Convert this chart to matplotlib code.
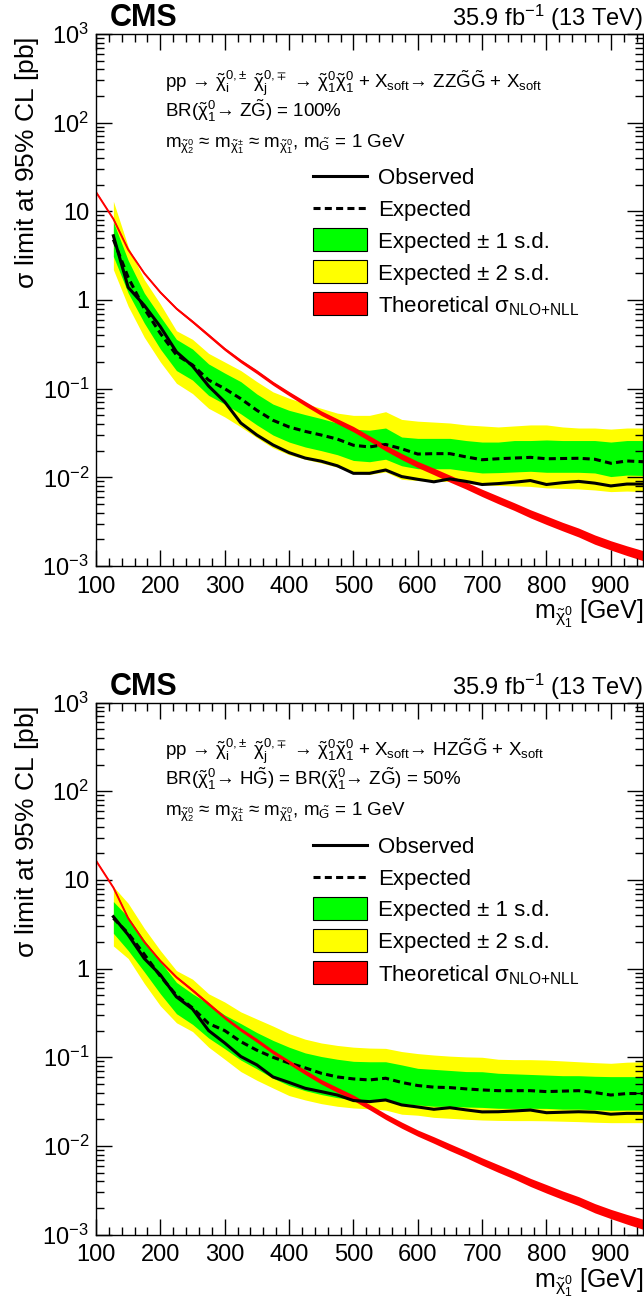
import numpy as np
import matplotlib
matplotlib.use('Agg')
import matplotlib.pyplot as plt
from matplotlib.patches import Rectangle
from matplotlib.lines import Line2D
from matplotlib.ticker import FixedLocator, FixedFormatter, LogLocator, NullFormatter, MultipleLocator

plt.rcParams['font.family'] = ['Liberation Sans', 'DejaVu Sans']
plt.rcParams['mathtext.fontset'] = 'custom'
plt.rcParams['mathtext.rm'] = 'Liberation Sans'
plt.rcParams['mathtext.it'] = 'Liberation Sans:italic'
plt.rcParams['mathtext.bf'] = 'Liberation Sans:bold'
plt.rcParams['mathtext.sf'] = 'Liberation Sans'
plt.rcParams['mathtext.default'] = 'regular'

# neutralino mass points [GeV]
mass = [127, 150, 175, 200, 225, 250, 275, 300, 325, 350, 375, 400, 425, 450, 475, 500, 525,
        550, 575, 600, 625, 650, 675, 700, 725, 750, 775, 800, 825, 850, 875, 900, 925, 950]

# theory cross section (same in both panels) [pb] and relative uncertainty
theory_mass = [100] + mass
theory_xsec = [16.5, 8.2, 3.7, 2.0, 1.22, 0.80, 0.57, 0.40, 0.28, 0.205, 0.155, 0.115, 0.088,
               0.068, 0.053, 0.043, 0.035, 0.0275, 0.0215, 0.0172, 0.0140, 0.0117, 0.0097,
               0.0081, 0.0067, 0.0056, 0.0047, 0.0039, 0.0033, 0.0028, 0.0024, 0.0020,
               0.00172, 0.00150, 0.00132]
theory_unc = [0.02, 0.02, 0.02, 0.025, 0.03, 0.03, 0.035, 0.04, 0.04, 0.045, 0.05, 0.05, 0.055,
              0.06, 0.06, 0.065, 0.07, 0.07, 0.075, 0.08, 0.08, 0.085, 0.09, 0.09, 0.095, 0.10,
              0.10, 0.105, 0.11, 0.11, 0.115, 0.12, 0.12, 0.125, 0.13]

# ZZ panel (BR = 100%)
zz_obs = [5.3, 1.39, 0.87, 0.50, 0.26, 0.18, 0.107, 0.071, 0.041, 0.030, 0.0232, 0.019, 0.0165,
          0.0152, 0.0135, 0.0111, 0.0111, 0.0121, 0.0102, 0.0095, 0.0089, 0.0096, 0.0090,
          0.0083, 0.0085, 0.0088, 0.0092, 0.0083, 0.0087, 0.0090, 0.0086, 0.0080, 0.0084, 0.0084]
zz_exp = [4.8, 1.8, 0.80, 0.42, 0.24, 0.185, 0.125, 0.10, 0.077, 0.057, 0.044, 0.037, 0.033,
          0.030, 0.027, 0.023, 0.022, 0.0235, 0.021, 0.0183, 0.0185, 0.0185, 0.017, 0.0158,
          0.0162, 0.0165, 0.0168, 0.0162, 0.0163, 0.0164, 0.016, 0.0144, 0.0153, 0.015]
zz_up1 = [7.6, 2.8, 1.2, 0.65, 0.36, 0.28, 0.19, 0.15, 0.12, 0.087, 0.067, 0.057, 0.051, 0.046,
          0.041, 0.035, 0.034, 0.036, 0.0285, 0.0275, 0.0275, 0.0275, 0.026, 0.025, 0.025,
          0.026, 0.026, 0.0264, 0.026, 0.026, 0.026, 0.025, 0.026, 0.026]
zz_dn1 = [3.1, 1.2, 0.55, 0.28, 0.16, 0.125, 0.084, 0.067, 0.052, 0.039, 0.030, 0.025, 0.022,
          0.020, 0.018, 0.0155, 0.015, 0.016, 0.0135, 0.0125, 0.0125, 0.0125, 0.0118, 0.0112,
          0.0113, 0.0115, 0.0117, 0.0114, 0.0114, 0.0114, 0.0112, 0.0102, 0.0106, 0.0105]
zz_up2 = [13.0, 4.0, 1.7, 0.9, 0.45, 0.36, 0.25, 0.20, 0.16, 0.12, 0.092, 0.078, 0.068, 0.060,
          0.053, 0.050, 0.050, 0.055, 0.045, 0.043, 0.042, 0.041, 0.039, 0.038, 0.037, 0.038,
          0.039, 0.039, 0.037, 0.036, 0.036, 0.035, 0.036, 0.036]
zz_dn2 = [2.2, 0.85, 0.38, 0.20, 0.115, 0.088, 0.060, 0.048, 0.037, 0.028, 0.0215, 0.018, 0.016,
          0.0145, 0.013, 0.0112, 0.0108, 0.0115, 0.0095, 0.0092, 0.0090, 0.0090, 0.0086,
          0.0082, 0.0081, 0.0080, 0.0079, 0.0076, 0.0075, 0.0074, 0.0072, 0.0069, 0.0070, 0.0069]

# HZ panel (BR = 50%)
hz_obs = [3.85, 2.4, 1.3, 0.85, 0.48, 0.35, 0.20, 0.145, 0.102, 0.082, 0.060, 0.052, 0.0447,
          0.041, 0.0375, 0.0325, 0.0316, 0.033, 0.029, 0.0275, 0.0259, 0.027, 0.0255, 0.0242,
          0.0243, 0.0248, 0.0254, 0.0237, 0.024, 0.0243, 0.024, 0.0228, 0.0233, 0.0233]
hz_exp = [3.7, 2.5, 1.45, 0.82, 0.50, 0.36, 0.24, 0.20, 0.15, 0.12, 0.10, 0.086, 0.076, 0.066,
          0.060, 0.057, 0.0555, 0.058, 0.052, 0.048, 0.046, 0.0455, 0.044, 0.0428, 0.042, 0.042,
          0.042, 0.041, 0.0415, 0.042, 0.040, 0.0375, 0.039, 0.039]
hz_up1 = [5.7, 3.8, 2.1, 1.2, 0.70, 0.52, 0.40, 0.30, 0.24, 0.19, 0.155, 0.13, 0.112, 0.102,
          0.095, 0.090, 0.089, 0.089, 0.082, 0.075, 0.073, 0.071, 0.069, 0.0687, 0.066, 0.065,
          0.064, 0.063, 0.062, 0.062, 0.061, 0.0605, 0.0605, 0.0605]
hz_dn1 = [2.5, 1.6, 0.92, 0.52, 0.31, 0.235, 0.165, 0.125, 0.093, 0.074, 0.058, 0.048, 0.042,
          0.038, 0.035, 0.0335, 0.033, 0.034, 0.030, 0.029, 0.028, 0.028, 0.0275, 0.0272,
          0.0266, 0.0265, 0.0266, 0.0265, 0.026, 0.026, 0.0256, 0.0252, 0.0254, 0.0254]
hz_up2 = [8.4, 5.45, 2.85, 1.6, 0.95, 0.76, 0.52, 0.42, 0.325, 0.27, 0.225, 0.185, 0.16, 0.145,
          0.136, 0.13, 0.127, 0.126, 0.116, 0.11, 0.106, 0.103, 0.101, 0.10, 0.095, 0.094,
          0.094, 0.093, 0.091, 0.089, 0.087, 0.0855, 0.088, 0.089]
hz_dn2 = [1.8, 1.3, 0.68, 0.38, 0.245, 0.195, 0.13, 0.095, 0.069, 0.055, 0.045, 0.037, 0.033,
          0.030, 0.028, 0.0268, 0.0262, 0.0254, 0.0228, 0.0222, 0.021, 0.0205, 0.020, 0.0196,
          0.0194, 0.0193, 0.0193, 0.0192, 0.019, 0.0188, 0.0185, 0.0183, 0.0183, 0.0183]

ytick_vals = [1e-3, 1e-2, 1e-1, 1, 10, 1e2, 1e3]
ytick_labels = ['$10^{-3}$', '$10^{-2}$', '$10^{-1}$', '1', '10', '$10^{2}$', '$10^{3}$']

zz_text = [r'pp → $\tilde{\chi}^{0{,}\pm}_{i}$ $\tilde{\chi}^{0{,}\mp}_{j}$ → '
           r'$\tilde{\chi}^{0}_{1}\tilde{\chi}^{0}_{1}$ + X$_{\text{soft}}$→ '
           r'ZZ$\tilde{G}\tilde{G}$ + X$_{\text{soft}}$',
           r'BR($\tilde{\chi}^{0}_{1}$→ Z$\tilde{G}$) = 100%',
           r'm$_{\tilde{\chi}^{0}_{2}}$ ≈ m$_{\tilde{\chi}^{\pm}_{1}}$ ≈ '
           r'm$_{\tilde{\chi}^{0}_{1}}$, m$_{\tilde{G}}$ = 1 GeV']
hz_text = [r'pp → $\tilde{\chi}^{0{,}\pm}_{i}$ $\tilde{\chi}^{0{,}\mp}_{j}$ → '
           r'$\tilde{\chi}^{0}_{1}\tilde{\chi}^{0}_{1}$ + X$_{\text{soft}}$→ '
           r'HZ$\tilde{G}\tilde{G}$ + X$_{\text{soft}}$',
           r'BR($\tilde{\chi}^{0}_{1}$→ H$\tilde{G}$) = '
           r'BR($\tilde{\chi}^{0}_{1}$→ Z$\tilde{G}$) = 50%',
           zz_text[2]]

legend_labels = ['Observed', 'Expected', 'Expected ± 1 s.d.', 'Expected ± 2 s.d.',
                 r'Theoretical $\sigma_{\text{NLO+NLL}}$']

fig = plt.figure(figsize=(6.44, 13.02), dpi=100)
W, H = 644., 1302.
ax1 = fig.add_axes([96 / W, 1 - 566 / H, 547 / W, 532 / H])
ax2 = fig.add_axes([96 / W, 1 - 1234.6 / H, 547 / W, 532 / H])


def draw_panel(ax, obs, exp, up1, dn1, up2, dn2, text):
    ax.fill_between(mass, dn2, up2, color='#ffff00', lw=0)
    ax.fill_between(mass, dn1, up1, color='#00ff00', lw=0)
    ax.plot(mass, exp, color='black', lw=2.2, ls=(0, (2.3, 1.4)))
    th = np.array(theory_xsec)
    unc = np.array(theory_unc)
    ax.fill_between(theory_mass, th * (1 - unc), th * (1 + unc), color='red', lw=0)
    ax.plot(theory_mass, th, color='red', lw=1.4)
    ax.plot(mass, obs, color='black', lw=2.2)

    ax.set_yscale('log')
    ax.set_xlim(100, 950)
    ax.set_ylim(1e-3, 1e3)
    ax.xaxis.set_major_locator(MultipleLocator(100))
    ax.xaxis.set_minor_locator(MultipleLocator(20))
    ax.yaxis.set_major_locator(FixedLocator(ytick_vals))
    ax.yaxis.set_major_formatter(FixedFormatter(ytick_labels))
    ax.yaxis.set_minor_locator(LogLocator(base=10, subs=np.arange(2, 10), numticks=20))
    ax.yaxis.set_minor_formatter(NullFormatter())
    ax.tick_params(which='both', direction='in', top=True, right=True, width=1.0)
    ax.tick_params(which='major', length=11.5, labelsize=17)
    ax.tick_params(which='minor', length=5.8)
    ax.tick_params(axis='x', pad=7)
    ax.tick_params(axis='y', pad=5)
    for s in ax.spines.values():
        s.set_linewidth(1.0)

    ax.set_xlabel(r'm$_{\tilde{\chi}^{0}_{1}}$ [GeV]', fontsize=18, loc='right')
    ax.xaxis.set_label_coords(1.0, -0.06)
    ax.set_ylabel(r'$\sigma$ limit at 95% CL [pb]', fontsize=19, loc='top')
    ax.yaxis.set_label_coords(-0.101, 0.995)

    ax.text(0.0255, 1.015, 'CMS', transform=ax.transAxes, fontsize=22, fontweight='bold',
            va='baseline', ha='left')
    ax.text(1.0, 1.015, r'35.9 fb$^{-1}$ (13 TeV)', transform=ax.transAxes, fontsize=17,
            va='baseline', ha='right')

    for t, y in zip(text, [0.918, 0.863, 0.801]):
        ax.text(0.126, y, t, transform=ax.transAxes, fontsize=13.5, va='center_baseline')

    # legend
    rows = [0.733, 0.673, 0.613, 0.553, 0.493]
    x0, x1 = 0.396, 0.496
    bh = 0.043
    ax.add_line(Line2D([x0, x1], [rows[0]] * 2, color='black', lw=2.2, transform=ax.transAxes))
    ax.add_line(Line2D([x0, x1], [rows[1]] * 2, color='black', lw=2.2, ls=(0, (2.3, 1.4)),
                       transform=ax.transAxes))
    for y, c in zip(rows[2:], ['#00ff00', '#ffff00', 'red']):
        ax.add_patch(Rectangle((x0, y - bh / 2), x1 - x0, bh, facecolor=c, edgecolor='black',
                               lw=0.8, transform=ax.transAxes))
    for y, lab in zip(rows, legend_labels):
        ax.text(0.515, y, lab, transform=ax.transAxes, fontsize=16, va='center_baseline')


draw_panel(ax1, zz_obs, zz_exp, zz_up1, zz_dn1, zz_up2, zz_dn2, zz_text)
draw_panel(ax2, hz_obs, hz_exp, hz_up1, hz_dn1, hz_up2, hz_dn2, hz_text)

fig.savefig('out.png', dpi=100)
